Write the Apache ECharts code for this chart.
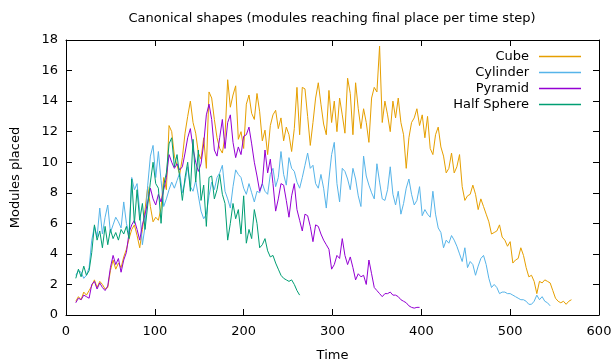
<!DOCTYPE html>
<html>
<head>
<meta charset="utf-8">
<script src="https://cdn.jsdelivr.net/npm/echarts@6/dist/echarts.min.js"></script>
<style>
  html, body { margin: 0; padding: 0; background: #fff; }
  #chart { width: 614px; height: 362px; }
</style>
</head>
<body>
<div id="chart"></div>
<script>
// all series start at t=11 and are sampled every 3 time steps
const timeStart = 11
const timeStep = 3

const cubeValues = [
  0.9, 1.2, 1.0, 1.5, 1.3, 1.6, 1.9, 2.3, 1.8, 2.2,
  2.0, 1.7, 1.8, 2.9, 3.6, 3.0, 3.4, 3.1, 3.8, 4.3,
  5.0, 5.6, 5.9, 5.2, 4.4, 5.6, 6.9, 8.4, 7.1, 6.1,
  6.4, 6.2, 7.0, 9.0, 8.2, 12.4, 12.0, 10.4, 9.8, 9.2,
  10.3, 11.9, 13.0, 14.0, 12.6, 11.9, 10.6, 10.2, 11.6, 9.6,
  14.6, 14.2, 12.8, 11.6, 10.9, 10.6, 11.7, 15.4, 13.6, 14.4,
  15.0, 11.5, 12.0, 10.9, 13.8, 14.4, 13.2, 12.8, 14.5, 13.3,
  11.4, 12.1, 10.5, 12.4, 13.1, 13.4, 12.2, 12.9, 11.4, 12.3,
  11.8, 10.7, 12.2, 14.9, 11.8, 14.9, 14.8, 13.0, 11.1, 12.6,
  14.2, 15.2, 13.8, 12.5, 11.8, 14.7, 12.6, 14.0, 12.0, 14.2,
  13.1, 11.9, 15.5, 14.5, 11.8, 15.2, 13.5, 12.2, 13.5, 12.6,
  11.3, 14.2, 14.9, 14.6, 17.6, 12.6, 14.0, 13.1, 12.0, 14.0,
  12.9, 14.2, 12.6, 11.8, 9.6, 11.6, 12.6, 12.9, 13.5, 12.4,
  13.1, 11.6, 13.0, 10.9, 10.5, 11.8, 12.3, 11.0, 10.4, 9.3,
  9.6, 10.6, 9.3, 9.7, 10.5, 8.4, 7.5, 7.8, 7.9, 8.5,
  7.9, 6.9, 7.6, 7.1, 6.6, 6.1, 5.3, 5.4, 5.5, 5.9,
  5.1, 4.9, 4.5, 4.8, 3.4, 3.6, 3.7, 4.4, 3.9, 3.1,
  2.5, 2.6, 2.2, 1.4, 2.2, 2.1, 2.3, 2.2, 2.1, 1.6,
  1.1, 0.9, 0.8, 0.9, 0.7, 0.9, 1.0
]

const cylinderValues = [
  2.6, 2.9, 2.8, 2.4, 2.6, 3.1, 4.9, 5.8, 5.1, 7.0,
  5.3, 6.4, 7.2, 5.4, 5.9, 6.4, 6.1, 5.7, 7.4, 6.0,
  5.3, 9.0, 8.2, 8.6, 6.8, 4.6, 5.8, 8.5, 10.4, 11.1,
  9.0, 10.7, 8.8, 7.1, 7.6, 8.2, 8.7, 8.3, 8.8, 9.3,
  8.0, 8.7, 9.7, 8.4, 8.1, 8.8, 7.8, 6.8, 6.3, 6.6,
  7.8, 8.7, 8.2, 9.0, 9.3, 9.8, 8.1, 7.6, 7.0, 8.4,
  9.5, 9.2, 9.0, 8.3, 7.9, 8.6, 8.0, 7.4, 8.1, 8.0,
  8.6, 8.1, 7.9, 9.2, 9.6, 8.4, 9.0, 10.7, 9.2, 8.5,
  10.3, 9.6, 9.4, 8.7, 8.3, 9.0, 9.8, 10.6, 9.6, 9.8,
  8.6, 8.3, 9.2, 8.3, 7.0, 8.9, 10.5, 11.3, 8.6, 7.4,
  9.6, 9.4, 8.9, 8.2, 9.6, 8.9, 7.8, 7.1, 10.4, 9.1,
  8.5, 8.0, 7.6, 9.9, 8.7, 7.6, 7.5, 8.2, 9.7, 7.9,
  7.2, 8.1, 6.6, 7.3, 8.3, 8.9, 7.9, 7.2, 7.5, 8.4,
  6.5, 6.9, 6.6, 6.4, 8.1, 6.6, 5.7, 5.4, 4.4, 4.9,
  4.7, 5.2, 4.9, 4.5, 4.0, 3.5, 4.4, 3.1, 3.5, 3.3,
  2.6, 3.2, 3.7, 3.9, 3.3, 2.4, 1.8, 2.0, 1.8, 1.4,
  1.5, 1.5, 1.4, 1.4, 1.3, 1.2, 1.1, 1.0, 1.0, 0.9,
  0.7, 0.7, 0.9, 1.3, 1.0, 1.2, 0.9, 0.8, 0.6
]

const pyramidValues = [
  0.8, 1.1, 1.0, 1.3, 1.2, 1.1, 2.0, 2.2, 1.7, 2.1,
  1.8, 1.6, 1.9, 3.1, 3.9, 3.3, 3.7, 2.8, 3.6, 4.1,
  5.4, 5.9, 6.2, 5.6, 4.9, 5.9, 6.6, 7.4, 8.3, 7.6,
  7.2, 7.9, 7.4, 8.2, 9.0, 10.5, 10.0, 9.6, 9.9, 9.5,
  9.7, 10.6, 11.6, 12.2, 10.9, 10.0, 9.4, 9.9, 11.2, 13.1,
  13.8, 12.8, 10.8, 10.4, 11.6, 12.8, 10.9, 12.6, 13.1, 11.3,
  10.3, 11.0, 10.5, 11.7, 11.8, 12.3, 11.2, 10.0, 9.1, 8.1,
  8.6, 10.8, 9.3, 10.2, 8.6, 6.8, 7.6, 8.6, 8.5, 7.5,
  6.4, 7.8, 8.6, 6.9, 6.2, 5.5, 6.6, 6.5, 5.8, 4.8,
  5.9, 5.8, 5.3, 4.9, 4.6, 4.3, 3.0, 3.3, 3.9, 3.7,
  5.0, 3.9, 3.3, 3.8, 3.1, 2.3, 2.7, 2.5, 2.6, 2.0,
  3.6, 2.7, 1.8, 1.6, 1.4, 1.2, 1.4, 1.4, 1.5, 1.3,
  1.3, 1.2, 1.0, 0.9, 0.8, 0.6, 0.5, 0.45, 0.5, 0.5
]

const halfSphereValues = [
  2.4, 3.0, 2.5, 3.2, 2.6, 2.9, 4.1, 5.9, 4.9, 5.5,
  4.4, 5.8, 4.6, 5.6, 5.0, 5.4, 4.9, 5.6, 5.3, 5.8,
  5.0, 8.9, 6.0, 8.2, 6.2, 7.3, 5.6, 7.2, 8.7, 10.0,
  8.6, 8.3, 6.0, 8.5, 9.3, 11.2, 11.6, 9.7, 10.5, 9.0,
  7.5, 9.0, 10.0, 8.1, 11.5, 8.7, 10.8, 7.5, 8.5, 5.8,
  9.0, 9.1, 7.6, 8.2, 9.2, 7.9, 7.3, 4.9, 6.0, 7.3,
  6.3, 6.9, 5.3, 7.8, 4.7, 5.6, 5.0, 6.9, 6.0, 4.4,
  4.6, 5.0, 4.2, 3.8, 3.9, 3.4, 3.0, 2.6, 2.4, 2.3,
  2.2, 2.3, 2.0, 1.6, 1.3
]

const seriesNames = ['Cube', 'Cylinder', 'Pyramid', 'Half Sphere']
const seriesValues = [cubeValues, cylinderValues, pyramidValues, halfSphereValues]
const seriesColors = ['#e69f00', '#56b4e9', '#9400d3', '#009e73']

const font = 'DejaVu Sans'
const textStyle = { color: '#000', fontSize: 13, fontFamily: font }

const toPoints = values => values.map((v, i) => [timeStart + i * timeStep, v])

const frameAxis = {
  axisLine: { show: true, onZero: false, lineStyle: { color: '#000', width: 1 } },
  axisTick: { show: true, inside: true, length: 6, lineStyle: { color: '#000' } },
  splitLine: { show: false }
}

const chart = echarts.init(document.getElementById('chart'))
chart.setOption({
  animation: false,
  backgroundColor: '#fff',
  title: {
    text: 'Canonical shapes (modules reaching final place per time step)',
    left: 327,
    top: 7,
    textAlign: 'center',
    textStyle: { ...textStyle, fontWeight: 'normal' }
  },
  grid: { left: 66, right: 15, top: 40, bottom: 47, containLabel: false, outerBoundsMode: 'none' },
  legend: seriesNames.map((name, i) => ({
    data: [name],
    orient: 'vertical',
    align: 'right',
    right: 33,
    top: 50 + i * 16,
    padding: 0,
    icon: 'rect',
    itemWidth: 42,
    itemHeight: 1.5,
    selectedMode: false,
    textStyle: { ...textStyle, padding: [0, 5, 0, 0] }
  })),
  xAxis: [
    {
      type: 'value', min: 0, max: 600, interval: 100, position: 'bottom',
      ...frameAxis,
      axisLabel: { ...textStyle, margin: 10 },
      name: 'Time', nameLocation: 'middle', nameGap: 34, nameTextStyle: textStyle
    },
    {
      type: 'value', min: 0, max: 600, interval: 100, position: 'top',
      ...frameAxis,
      axisLabel: { show: false }
    }
  ],
  yAxis: [
    {
      type: 'value', min: 0, max: 18, interval: 2, position: 'left',
      ...frameAxis,
      axisLabel: { ...textStyle, margin: 8 },
      name: 'Modules placed', nameLocation: 'middle', nameGap: 44, nameTextStyle: textStyle
    },
    {
      type: 'value', min: 0, max: 18, interval: 2, position: 'right',
      ...frameAxis,
      axisLabel: { show: false }
    }
  ],
  series: seriesNames.map((name, i) => ({
    name,
    type: 'line',
    xAxisIndex: 0,
    yAxisIndex: 0,
    data: toPoints(seriesValues[i]),
    showSymbol: false,
    symbol: 'none',
    color: seriesColors[i],
    lineStyle: { width: 1, color: seriesColors[i] }
  }))
})
</script>
</body>
</html>
